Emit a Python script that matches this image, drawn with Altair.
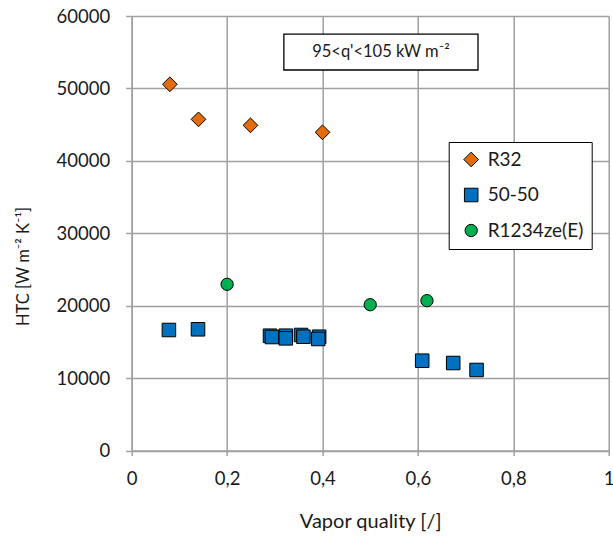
import altair as alt
import pandas as pd

# ---- data ----
r32_x = [0.080, 0.140, 0.249, 0.400]
r32_y = [50570, 45730, 44900, 43940]

mix_x = [0.078, 0.139, 0.290, 0.294, 0.323, 0.323, 0.355, 0.360, 0.393, 0.391, 0.609, 0.674, 0.723]
mix_y = [16640, 16740, 15850, 15670, 15850, 15490, 15950, 15710, 15710, 15400, 12400, 12080, 11120]

ze_x = [0.200, 0.500, 0.619]
ze_y = [22950, 20130, 20690]

series_names = ["R32", "50-50", "R1234ze(E)"]
series_colors = ["#E46C0A", "#0070C0", "#00B050"]
series_shapes = ["diamond", "square", "circle"]
series_sizes = [216, 151, 137]

x_ticks = [0, 0.2, 0.4, 0.6, 0.8, 1]
y_ticks = [0, 10000, 20000, 30000, 40000, 50000, 60000]

note_text = "95<q'<105 kW m\u207b\u00b2"
note_x = [0.319, 0.726]
note_y = [52540, 57510]

FONT = "Lato"
GRID = "#a0a0a0"
TXT = "#1a1a1a"

rows = []
for name, xs, ys in [("R32", r32_x, r32_y), ("50-50", mix_x, mix_y), ("R1234ze(E)", ze_x, ze_y)]:
    for a, b in zip(xs, ys):
        rows.append({"x": a, "y": b, "series": name})
df = pd.DataFrame(rows)

note_df = pd.DataFrame({
    "x": [note_x[0]], "x2": [note_x[1]],
    "y": [note_y[0]], "y2": [note_y[1]],
    "xc": [(note_x[0] + note_x[1]) / 2], "yc": [(note_y[0] + note_y[1]) / 2],
    "label": [note_text],
})

xscale = alt.Scale(domain=[0, 1], nice=False, zero=False)
yscale = alt.Scale(domain=[0, 60000], nice=False)

xaxis = alt.Axis(
    values=x_ticks,
    labelExpr="replace(format(datum.value, '~g'), '.', ',')",
    title="Vapor quality [/]",
    titleFont=FONT, titleFontSize=20, titleFontWeight="normal", titleColor=TXT,
    titleY=77, titleBaseline="alphabetic",
    labelFont=FONT, labelFontSize=18.5, labelColor=TXT, labelPadding=14,
    tickSize=5, tickColor=GRID, tickWidth=1.5,
    domainColor=GRID, domainWidth=1.5,
    grid=True, gridColor=GRID, gridWidth=1.5,
    labelFlush=False, labelOverlap=False,
)
yaxis = alt.Axis(
    values=y_ticks,
    format="d",
    title="HTC [W m\u207b\u00b2 K\u207b\u00b9]",
    titleFont=FONT, titleFontSize=16.5, titleFontWeight="normal", titleColor=TXT,
    titleAngle=270, titleX=-103, titleY=250, titleAlign="center", titleBaseline="alphabetic",
    labelFont=FONT, labelFontSize=18.5, labelColor=TXT, labelPadding=16,
    tickSize=6, tickColor=GRID, tickWidth=1.5,
    domainColor=GRID, domainWidth=1.5,
    grid=True, gridColor=GRID, gridWidth=1.5,
    labelFlush=False, labelOverlap=False,
)

legend = alt.Legend(
    title=None, orient="none", legendX=317, legendY=126,
    strokeColor="black", fillColor="white",
    padding=8, symbolOffset=5, labelOffset=7, rowPadding=15.5,
    labelFont=FONT, labelFontSize=19, labelColor=TXT,
    symbolStrokeColor="black", symbolStrokeWidth=1,
)

base = alt.Chart(df)
points = base.mark_point(filled=True, stroke="black", strokeWidth=1, opacity=1).encode(
    x=alt.X("x:Q", scale=xscale, axis=xaxis),
    y=alt.Y("y:Q", scale=yscale, axis=yaxis),
    color=alt.Color("series:N", scale=alt.Scale(domain=series_names, range=series_colors), legend=legend),
    shape=alt.Shape("series:N", scale=alt.Scale(domain=series_names, range=series_shapes), legend=legend),
    size=alt.Size("series:N", scale=alt.Scale(domain=series_names, range=series_sizes), legend=legend),
)

note_box = alt.Chart(note_df).mark_rect(fill="white", stroke="black", strokeWidth=1.3).encode(
    x=alt.X("x:Q", scale=xscale, axis=xaxis),
    x2="x2:Q",
    y=alt.Y("y:Q", scale=yscale, axis=yaxis),
    y2="y2:Q",
)
note_label = alt.Chart(note_df).mark_text(font=FONT, fontSize=16.5, color=TXT, baseline="middle", align="center").encode(
    x=alt.X("xc:Q", scale=xscale, axis=xaxis),
    y=alt.Y("yc:Q", scale=yscale, axis=yaxis),
    text="label:N",
)

chart = alt.layer(note_box, note_label, points).properties(
    width=477, height=434.5,
    autosize=alt.AutoSizeParams(type="none"),
    padding={"left": 131.7, "top": 16, "right": 4.3, "bottom": 86.5},
    background="white",
).configure_view(stroke=None)

chart.save("out.html", embed_options={"renderer": "svg", "actions": False})
